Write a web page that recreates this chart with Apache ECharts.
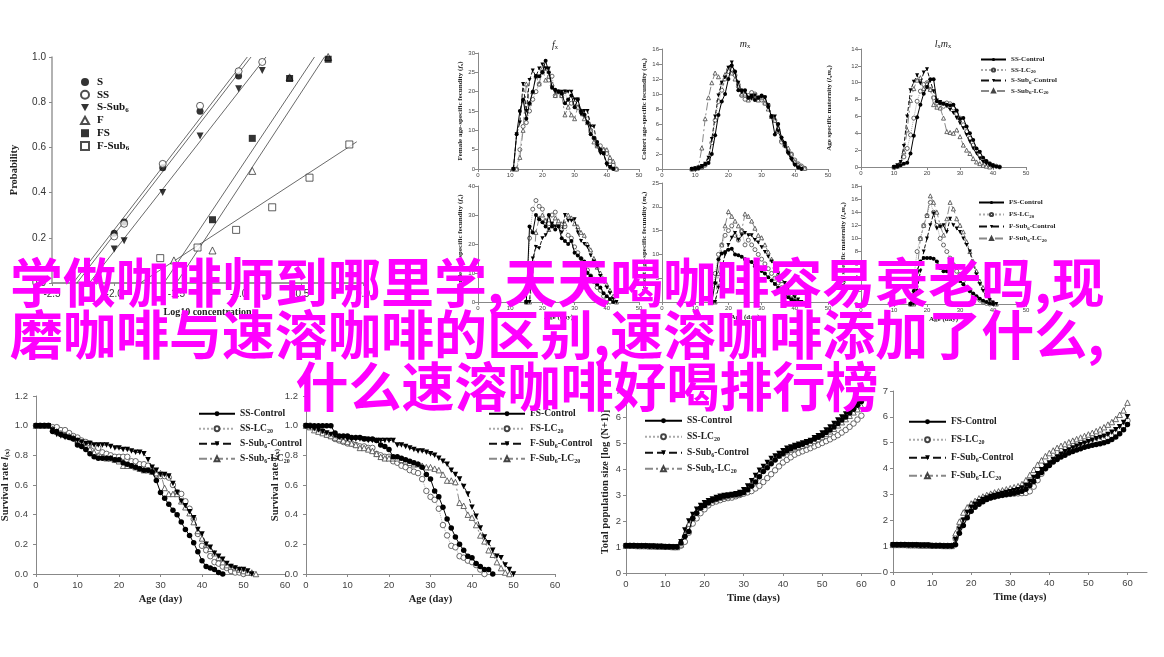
<!DOCTYPE html>
<html><head><meta charset="utf-8">
<script src="https://cdn.jsdelivr.net/npm/echarts@6/dist/echarts.min.js"></script>
<style>html,body{margin:0;padding:0;background:#fff}#c{width:1164px;height:657px}</style>
</head><body><div id="c"></div>
<script>
// ---------- Probability plot (Log10 concentration vs probability) ----------
const probNames = ['S','SS','S-Sub6','F','FS','F-Sub6'];
const probX_S    = [-2.0,-1.92,-1.61,-1.31,-1.0];
const probY_S    = [0.22,0.27,0.51,0.76,0.916];
const probX_SS   = [-2.0,-1.92,-1.61,-1.31,-1.0,-0.81];
const probY_SS   = [0.206,0.262,0.527,0.784,0.937,0.978];
const probX_SSub = [-2.0,-1.92,-1.61,-1.31,-1.0,-0.81];
const probY_SSub = [0.15,0.187,0.40,0.65,0.86,0.94];
const probX_F    = [-1.52,-1.21,-0.89,-0.59,-0.28];
const probY_F    = [0.10,0.144,0.496,0.91,1.0];
const probX_FS   = [-1.21,-0.89,-0.59,-0.28];
const probY_FS   = [0.28,0.64,0.905,0.99];
const probX_FSub = [-1.63,-1.33,-1.02,-0.73,-0.43,-0.11];
const probY_FSub = [0.11,0.157,0.235,0.335,0.466,0.613];
// regression lines: [x0,x1] with [y0,y1]
const fitX_S = [-2.33,-0.93],  fitY_S = [0,1];
const fitX_SS = [-2.30,-0.90], fitY_SS = [0,1];
const fitX_SSub = [-2.20,-0.78], fitY_SSub = [0,1];
const fitX_F = [-1.60,-0.39], fitY_F = [0,1];
const fitX_FS = [-1.50,-0.31], fitY_FS = [0,1];
const fitX_FSub = [-1.79,-0.05], fitY_FSub = [0,0.625];

// ---------- series names ----------
const ssNames = ['SS-Control','SS-LC20','S-Sub6-Control','S-Sub6-LC20'];
const fsNames = ['FS-Control','FS-LC20','F-Sub6-Control','F-Sub6-LC20'];

// ---------- Female age-specific fecundity fx (SS group), first day 11 ----------
const fxSS_start = 11;
const fxSS_ctrl  = [0,9,15,18,13,17,20,24,24,25,28,25,21,20.5,20,19.5,17,18,19,16,18,15,14,12,9,8,7,5,4,1.5,0.5,0];
const fxSS_lc    = [0,0,5,11,12,15,18,20,22,25,26,23,24,19,20,19,20,17,17,17,16,15,14,13,10,8,6,6,5,4,2,1,0];
const fxSS_sctrl = [0,9,12,22,15,23,25.5,24,26,27,26,26,21,20,20,20,20,20,20,18,18,14,15,15,11,11,6,4,4,1,0.5,0];
const fxSS_slc   = [0,0,3,10,22,17,20,24,22,26,23,24,22,19,20,19,14,16,14,13,16,15,13,12,10,7,6,5,5,5,3,2,0];
// ---------- Cohort fecundity mx (SS group), first day 9 ----------
const mxSS_start = 9;
const mxSS_ctrl  = [0,0.05,0.1,0.3,0.6,0.8,2,4.5,7.2,9,10,12,13.8,13,10.5,10.5,10.5,9.5,9.8,9.2,9.5,9.8,9.6,8.3,7,4.6,6,4.2,3.5,2.2,1.4,0.6,0.2,0];
const mxSS_lc    = [0,0,0.1,0.2,0.5,1.2,3.5,6.5,9,10.5,12,13,13.3,12.5,11,9.8,9.3,9.8,10.2,10,9.5,9.2,8.8,8.5,7,6.5,5,3.6,3.2,2.4,2,1.2,0.7,0.4,0.1];
const mxSS_sctrl = [0,0.1,0.2,0.4,0.7,1.5,4,7,9.8,11.5,12.2,13.5,14.2,12.8,11.5,10.2,10.3,9.5,9.4,9.8,9.5,9.6,9.5,8.5,7,7,5,4,3,2,1.2,0.5,0.2,0];
const mxSS_slc   = [0,0.1,0.3,2.8,6.7,9.5,11.5,12.8,12.3,11.5,12.6,13.5,12.8,12,11.5,10,10,9.2,9.5,9.8,9.2,9.5,8.8,8,7,6.5,5.5,4,3.2,2.8,2,1,0.6,0.3,0.1];
// ---------- Age specific maternity lxmx (SS group), first day 10 ----------
const lxSS_start = 10;
const lxSS_ctrl  = [0,0.05,0.2,0.4,0.5,1.6,3.7,5.9,7.4,8.7,9.5,10.4,10.4,7.8,7.6,7.5,7.4,7.3,7.4,6.7,5.7,5.8,4.8,4.0,3.2,2.2,1.8,1.1,0.7,0.4,0.2,0.05,0];
const lxSS_lc    = [0,0.1,0.4,1.2,2.2,3.8,5.8,7.8,9.0,9.8,10.0,9.2,8.2,7.6,7.6,7.2,7.6,7.5,7.0,6.3,5.8,5.0,4.2,3.4,2.6,2.0,1.4,0.9,0.6,0.4,0.2,0.1,0];
const lxSS_sctrl = [0,0.2,0.6,2.5,6.0,9.1,10.1,10.9,9.9,11.2,11.6,10.2,9.0,7.9,7.7,7.5,7.2,6.8,6.4,5.8,5.2,4.6,3.8,3.0,2.2,1.6,1.0,0.6,0.4,0.2,0];
const lxSS_slc   = [0,0.1,0.5,1.8,4.4,7.9,9.3,10.3,10.6,9.3,9.9,9.2,7.4,7.1,7.0,5.8,4.2,4.1,4.0,4.4,3.6,2.6,2.0,1.6,1.0,0.6,0.4,0.2,0.1,0];

// ---------- FS group, first day 15 ----------
const fsTop_start = 15;
const fxFS_ctrl  = [0,26,24,30,28.5,27.5,26,30,26,25,26,22,21,20,21,17,16,15,14,10,9,8,6,5,3,2,1,0];
const fxFS_lc    = [0,22,32,35,33,32,28,27,30,31,27,25,26,23,22,19,17,15,13,11,9,7,5,4,2,1,0];
const fxFS_sctrl = [0,0,15,19,18.5,22,23,25,27,26,26,24,30,28,28,28.5,24,21,20,19,16,14,12,9,7,5,3,1,0];
const fxFS_slc   = [0,0,8,24,29,30,28,25,27,29,28,27,27,30,29,27,26,24,23,20,18,15,12,10,8,6,4,2,0];
const mxFS_ctrl  = [0,4,9,10.2,10.5,11,11.2,10,9.8,9.5,9,8.5,8.4,7.5,7,6.5,6,5.2,4.5,3.8,3,2.2,1.5,1,0.5,0.2,0];
const mxFS_lc    = [0,6,10,12,14,15,16,14,13,15,12,13,12,11,10,9,8,7,6,5,4,3,2,1.2,0.6,0.2,0];
const mxFS_sctrl = [0,0,3,7,10,12,13.5,14.5,13,14,14.5,14,14,13,12.5,11.5,10.5,9.5,8.5,7.5,6,5,4,3,2,1,0.5,0];
const mxFS_slc   = [0,0,6,12,16,19,18,17,16,15,18.5,18,17,15.5,14,13.5,12,10.5,9,7.5,6,4.5,3.5,2.5,1.5,0.8,0.3,0];
const lxFS_ctrl  = [0,2,5,6.5,7,7,7,6.9,6.5,5.5,5,5,4.5,4,3.8,3.5,3,2.5,2,1.6,1.2,0.8,0.5,0.3,0.1,0];
const lxFS_lc    = [0,4,8,10,12,13.5,15.5,14,12,10,9,8,7,6,5,4.5,3.5,2.5,2,1.4,1,0.6,0.3,0.1,0];
const lxFS_sctrl = [0,0,2,5,8,10,12,13.8,11.5,11.8,12,11,13,12,11.5,11,10,9,8,6,4.5,3,2,1.2,0.6,0.2,0];
const lxFS_slc   = [0,0,5,10,12,13.5,16.5,15.5,14,12,10.5,13,15.5,14.5,13,12,11,9.5,8,6.5,5,3.5,2.5,1.5,0.8,0.3,0];

// ---------- Survival rate lx (first day 0) ----------
const survSS_ctrl  = [1,1,1,1,0.96,0.96,0.94,0.93,0.92,0.91,0.87,0.86,0.84,0.81,0.79,0.78,0.78,0.78,0.78,0.77,0.77,0.75,0.74,0.73,0.72,0.71,0.70,0.70,0.69,0.63,0.55,0.51,0.47,0.43,0.40,0.35,0.30,0.26,0.21,0.15,0.09,0.05,0.04,0.03,0.01,0.0];
const survSS_lc    = [1,1,1,1,0.99,0.99,0.97,0.97,0.95,0.93,0.92,0.90,0.89,0.88,0.86,0.85,0.82,0.81,0.80,0.79,0.79,0.79,0.79,0.76,0.76,0.74,0.74,0.73,0.70,0.67,0.66,0.66,0.65,0.60,0.55,0.54,0.49,0.44,0.37,0.27,0.19,0.16,0.12,0.08,0.07,0.05,0.04,0.02,0.01,0.01,0.0];
const survSS_sctrl = [1,1,1,1,0.97,0.94,0.93,0.92,0.92,0.91,0.90,0.89,0.88,0.88,0.87,0.87,0.87,0.87,0.86,0.85,0.85,0.84,0.84,0.83,0.82,0.82,0.81,0.77,0.72,0.70,0.67,0.67,0.66,0.61,0.55,0.49,0.46,0.42,0.38,0.30,0.27,0.20,0.18,0.14,0.12,0.10,0.07,0.05,0.04,0.03,0.03,0.02,0.0];
const survSS_slc   = [1,1,1,1,0.98,0.96,0.95,0.94,0.93,0.92,0.90,0.88,0.86,0.84,0.82,0.80,0.79,0.78,0.78,0.77,0.76,0.73,0.73,0.73,0.72,0.71,0.70,0.70,0.69,0.68,0.68,0.58,0.54,0.54,0.54,0.49,0.45,0.41,0.35,0.29,0.24,0.20,0.17,0.14,0.11,0.08,0.06,0.05,0.04,0.03,0.02,0.01,0.01,0.0];
const survFS_ctrl  = [1,1,1,1,1,1,1,0.95,0.93,0.93,0.93,0.92,0.92,0.92,0.91,0.91,0.91,0.90,0.87,0.86,0.84,0.79,0.79,0.78,0.77,0.76,0.75,0.74,0.72,0.67,0.64,0.56,0.52,0.45,0.37,0.31,0.25,0.20,0.16,0.12,0.11,0.07,0.05,0.03,0.03,0.0];
const survFS_lc    = [1,1,0.99,0.98,0.96,0.94,0.93,0.91,0.90,0.89,0.88,0.88,0.87,0.86,0.86,0.85,0.85,0.81,0.80,0.79,0.79,0.76,0.75,0.73,0.72,0.70,0.69,0.68,0.64,0.56,0.52,0.50,0.44,0.33,0.26,0.19,0.18,0.12,0.11,0.09,0.08,0.06,0.03,0.0];
const survFS_sctrl = [1,0.99,0.98,0.97,0.96,0.95,0.94,0.93,0.92,0.92,0.91,0.91,0.91,0.91,0.91,0.90,0.90,0.90,0.90,0.90,0.90,0.90,0.87,0.87,0.86,0.85,0.84,0.83,0.83,0.82,0.81,0.80,0.78,0.76,0.74,0.70,0.67,0.64,0.59,0.54,0.45,0.39,0.31,0.25,0.21,0.16,0.12,0.11,0.06,0.03,0.0];
const survFS_slc   = [1,0.99,0.97,0.96,0.95,0.94,0.93,0.92,0.91,0.90,0.89,0.88,0.87,0.85,0.85,0.84,0.83,0.81,0.79,0.78,0.78,0.78,0.78,0.77,0.76,0.75,0.74,0.74,0.73,0.72,0.72,0.71,0.70,0.67,0.63,0.63,0.62,0.48,0.46,0.40,0.38,0.33,0.26,0.22,0.16,0.13,0.08,0.04,0.01,0.0];

// ---------- Total population size log(N+1) (first day 0) ----------
const popSS_ctrl  = [1.05,1.05,1.05,1.04,1.04,1.04,1.03,1.03,1.02,1.02,1.01,1.01,1.0,1.0,1.15,1.4,1.6,2.1,2.3,2.5,2.6,2.7,2.8,2.85,2.9,2.95,2.97,3.0,3.02,3.05,3.1,3.2,3.35,3.5,3.7,3.9,4.05,4.2,4.35,4.5,4.6,4.7,4.78,4.85,4.9,4.95,5.02,5.08,5.15,5.22,5.3,5.4,5.5,5.62,5.75,5.88,6.0,6.15,6.3,6.45,6.6];
const popSS_lc    = [1.05,1.05,1.05,1.04,1.04,1.04,1.03,1.03,1.02,1.02,1.01,1.01,1.0,1.0,1.05,1.2,1.55,1.9,2.1,2.3,2.45,2.6,2.7,2.75,2.8,2.85,2.88,2.9,2.95,3.0,3.05,3.1,3.15,3.25,3.35,3.5,3.65,3.8,3.95,4.1,4.25,4.35,4.45,4.55,4.62,4.68,4.74,4.8,4.87,4.93,5.0,5.07,5.14,5.22,5.3,5.4,5.5,5.62,5.75,5.9,6.05];
const popSS_sctrl = [1.05,1.05,1.05,1.04,1.04,1.04,1.03,1.03,1.02,1.02,1.01,1.01,1.0,1.0,1.2,1.65,2.0,2.25,2.45,2.6,2.7,2.78,2.85,2.9,2.95,2.98,3.0,3.02,3.05,3.1,3.2,3.35,3.55,3.75,3.95,4.1,4.25,4.4,4.5,4.6,4.7,4.8,4.85,4.9,4.95,5.0,5.05,5.1,5.2,5.28,5.38,5.5,5.62,5.75,5.88,6.0,6.12,6.25,6.38,6.5,6.62];
const popSS_slc   = [1.05,1.05,1.05,1.04,1.04,1.04,1.03,1.03,1.02,1.02,1.01,1.01,1.0,1.0,1.1,1.5,1.9,2.2,2.4,2.55,2.65,2.72,2.8,2.85,2.9,2.93,2.96,3.0,3.02,3.05,3.12,3.25,3.45,3.65,3.85,4.0,4.15,4.3,4.42,4.52,4.6,4.68,4.75,4.8,4.85,4.9,4.95,5.0,5.08,5.15,5.25,5.35,5.45,5.55,5.68,5.8,5.92,6.05,6.18,6.3,6.42];
const popFS_ctrl  = [1.05,1.05,1.05,1.05,1.04,1.04,1.04,1.03,1.03,1.03,1.02,1.02,1.02,1.01,1.01,1.01,1.05,1.5,1.8,2.1,2.35,2.5,2.62,2.72,2.8,2.86,2.9,2.94,2.97,3.0,3.02,3.05,3.08,3.12,3.2,3.35,3.5,3.7,3.85,4.0,4.12,4.25,4.35,4.45,4.52,4.6,4.66,4.72,4.77,4.82,4.86,4.9,4.93,4.96,5.0,5.05,5.12,5.22,5.35,5.5,5.7];
const popFS_lc    = [1.05,1.05,1.05,1.05,1.04,1.04,1.04,1.03,1.03,1.03,1.02,1.02,1.02,1.01,1.01,1.01,1.3,1.7,2.0,2.25,2.45,2.6,2.7,2.78,2.84,2.89,2.93,2.96,2.98,3.0,3.02,3.03,3.04,3.05,3.06,3.12,3.3,3.55,3.8,4.0,4.15,4.3,4.42,4.52,4.6,4.68,4.74,4.8,4.85,4.9,4.95,5.0,5.05,5.1,5.15,5.2,5.28,5.38,5.5,5.65,5.85];
const popFS_sctrl = [1.05,1.05,1.05,1.05,1.04,1.04,1.04,1.03,1.03,1.03,1.02,1.02,1.02,1.01,1.01,1.01,1.25,1.65,2.0,2.3,2.5,2.62,2.72,2.8,2.86,2.92,2.96,3.0,3.04,3.07,3.1,3.14,3.18,3.25,3.35,3.5,3.65,3.8,3.95,4.1,4.22,4.35,4.45,4.55,4.65,4.72,4.8,4.86,4.92,4.98,5.04,5.1,5.15,5.2,5.25,5.32,5.4,5.5,5.62,5.78,6.0];
const popFS_slc   = [1.05,1.05,1.05,1.05,1.04,1.04,1.04,1.03,1.03,1.03,1.02,1.02,1.02,1.01,1.01,1.01,1.5,1.95,2.3,2.5,2.65,2.75,2.85,2.92,2.98,3.03,3.08,3.12,3.16,3.2,3.24,3.28,3.32,3.4,3.55,3.75,3.95,4.15,4.32,4.48,4.6,4.7,4.8,4.88,4.95,5.02,5.08,5.14,5.2,5.26,5.32,5.38,5.45,5.52,5.6,5.7,5.8,5.92,6.08,6.25,6.55];

// ---------- overlay text ----------
const overlayLines = ['学做咖啡师到哪里学,天天喝咖啡容易衰老吗,现', '磨咖啡与速溶咖啡的区别,速溶咖啡添加了什么,', '什么速溶咖啡好喝排行榜'];

// ================= build =================
const SANS = "'Liberation Sans', Arial, sans-serif";
const SERIF = "'Liberation Serif', 'Times New Roman', serif";
const DOWN = 'path://M0,0L10,0L5,9Z';
const UP = 'path://M5,0L10,9L0,9Z';
const SQUARE = 'path://M0,0L10,0L10,10L0,10Z';
function seq(start, vals){ return vals.map((v,i)=>[start+i, v]); }
function zip(xs, ys){ return xs.map((x,i)=>[x, ys[i]]); }

const grids = [
  {left:52, top:57, width:311, height:226},
  {left:478, top:53, width:161, height:116},
  {left:662, top:49, width:166, height:120},
  {left:861, top:49, width:165, height:118},
  {left:478, top:186, width:161, height:116},
  {left:662, top:183, width:166, height:119},
  {left:861, top:186, width:165, height:118},
  {left:36, top:396, width:249, height:178},
  {left:306, top:396, width:249, height:178},
  {left:626, top:391, width:255, height:182},
  {left:893, top:391, width:254, height:181}
].map(g => Object.assign({containLabel:false, outerBoundsMode:'none'}, g));

function axis(gi, min, max, interval, fs, extra){
  const a = {type:'value', gridIndex:gi, min, max, interval,
    splitLine:{show:false},
    axisLine:{show:true, onZero:false, lineStyle:{color:'#888', width:1}},
    axisTick:{show:true, length:3, lineStyle:{color:'#888'}},
    axisLabel:{fontSize:fs, color:'#444', fontFamily:SANS, margin: fs>8?6:3}};
  if (extra) {
    for (const k in extra) {
      if (typeof extra[k]==='object' && !Array.isArray(extra[k]) && a[k]) a[k] = Object.assign({}, a[k], extra[k]);
      else a[k] = extra[k];
    }
  }
  return a;
}
const nameStyleSmall = {fontFamily:SERIF, fontWeight:'bold', fontSize:7, color:'#222',
  rich:{i:{fontStyle:'italic', fontFamily:SERIF, fontWeight:'bold', fontSize:7, color:'#222'}, s:{fontFamily:SERIF, fontWeight:'bold', fontSize:5, color:'#222', padding:[3,0,0,0]}}};
const nameStyle = {fontFamily:SERIF, fontWeight:'bold', fontSize:10.5, color:'#222',
  rich:{i:{fontStyle:'italic', fontFamily:SERIF, fontWeight:'bold', fontSize:10.5, color:'#222'}, s:{fontFamily:SERIF, fontWeight:'bold', fontSize:7, color:'#222', padding:[4,0,0,0]}}};

const fmt1 = v => v.toFixed(1);
const xAxes = [
  axis(0, -2.5, 0, 0.5, 10, {axisLabel:{formatter:fmt1, color:'#333'}, axisLine:{lineStyle:{color:'#999', width:2}}, name:'Log10 concentration', nameLocation:'middle', nameGap:24, nameTextStyle:{fontFamily:SERIF, fontWeight:'bold', fontSize:10, color:'#222'}}),
  axis(1, 0, 50, 10, 6),
  axis(2, 0, 50, 10, 6),
  axis(3, 0, 50, 10, 6),
  axis(4, 0, 50, 10, 6, {name:'Age (day)', nameLocation:'middle', nameGap:12, nameTextStyle:nameStyleSmall}),
  axis(5, 0, 50, 10, 6, {name:'Age (day)', nameLocation:'middle', nameGap:12, nameTextStyle:nameStyleSmall}),
  axis(6, 0, 50, 10, 6, {name:'Age (day)', nameLocation:'middle', nameGap:12, nameTextStyle:nameStyleSmall}),
  axis(7, 0, 60, 10, 9.5, {name:'Age (day)', nameLocation:'middle', nameGap:20, nameTextStyle:nameStyle}),
  axis(8, 0, 60, 10, 9.5, {name:'Age (day)', nameLocation:'middle', nameGap:20, nameTextStyle:nameStyle}),
  axis(9, 0, 65, 10, 9.5, {axisLabel:{customValues:[0,10,20,30,40,50,60]}, axisTick:{customValues:[0,10,20,30,40,50,60]}, name:'Time (days)', nameLocation:'middle', nameGap:20, nameTextStyle:nameStyle}),
  axis(10, 0, 65, 10, 9.5, {axisLabel:{customValues:[0,10,20,30,40,50,60]}, axisTick:{customValues:[0,10,20,30,40,50,60]}, name:'Time (days)', nameLocation:'middle', nameGap:20, nameTextStyle:nameStyle})
];
const yAxes = [
  axis(0, 0, 1, 0.2, 10, {axisLabel:{formatter:fmt1, color:'#333'}, axisLine:{lineStyle:{color:'#999', width:1.5}}, name:'Probability', nameLocation:'middle', nameGap:32, nameTextStyle:{fontFamily:SERIF, fontWeight:'bold', fontSize:10.5, color:'#222'}}),
  axis(1, 0, 30, 5, 6, {name:'Female age-specific fecundity ({i|f}{s|x})', nameLocation:'middle', nameGap:13, nameTextStyle:nameStyleSmall}),
  axis(2, 0, 16, 2, 6, {name:'Cohort age-specific fecundity ({i|m}{s|x})', nameLocation:'middle', nameGap:11, nameTextStyle:nameStyleSmall}),
  axis(3, 0, 14, 2, 6, {name:'Age specific maternity ({i|l}{s|x}{i|m}{s|x})', nameLocation:'middle', nameGap:28, nameTextStyle:nameStyleSmall}),
  axis(4, 0, 40, 10, 6, {name:'Female age-specific fecundity ({i|f}{s|x})', nameLocation:'middle', nameGap:13, nameTextStyle:nameStyleSmall}),
  axis(5, 0, 25, 5, 6, {name:'Cohort age-specific fecundity ({i|m}{s|x})', nameLocation:'middle', nameGap:8, nameTextStyle:nameStyleSmall}),
  axis(6, 0, 18, 2, 6, {name:'Age specific maternity ({i|l}{s|x}{i|m}{s|x})', nameLocation:'middle', nameGap:13, nameTextStyle:nameStyleSmall}),
  axis(7, 0, 1.2, 0.2, 9.5, {axisLabel:{formatter:fmt1, margin:8}, name:'Survival rate {i|l}{s|(x)}', nameLocation:'middle', nameGap:19, nameTextStyle:nameStyle}),
  axis(8, 0, 1.2, 0.2, 9.5, {axisLabel:{formatter:fmt1, margin:8}, name:'Survival rate {i|l}{s|(x)}', nameLocation:'middle', nameGap:19, nameTextStyle:nameStyle}),
  axis(9, 0, 7, 1, 9.5, {axisLabel:{margin:5}, name:'Total population size [log (N+1)]', nameLocation:'middle', nameGap:15, nameTextStyle:nameStyle}),
  axis(10, 0, 7, 1, 9.5, {axisLabel:{margin:5}})
];

function lineStyleFor(kind, size){
  switch(kind){
    case 0: return {symbol:'circle', symbolSize:size, itemStyle:{color:'#000'}, lineStyle:{color:'#000', width:1, type:'solid'}, z:6};
    case 1: return {symbol:'circle', symbolSize:size, itemStyle:{color:'#fff', borderColor:'#444', borderWidth:0.8}, lineStyle:{color:'#aaa', width:1, type:'dotted'}, z:3};
    case 2: return {symbol:DOWN, symbolSize:size, itemStyle:{color:'#000'}, lineStyle:{color:'#111', width:1, type:'dashed'}, z:5};
    default: return {symbol:UP, symbolSize:size, itemStyle:{color:'#fff', borderColor:'#444', borderWidth:0.8}, lineStyle:{color:'#888', width:1, type:[8,3,2,3]}, z:4};
  }
}
function ls(name, data, gi, kind, size){
  return Object.assign({type:'line', name, data, xAxisIndex:gi, yAxisIndex:gi, showSymbol:true, silent:true, animation:false}, lineStyleFor(kind, size));
}
const series = [];
[[fitX_S,fitY_S],[fitX_SS,fitY_SS],[fitX_SSub,fitY_SSub],[fitX_F,fitY_F],[fitX_FS,fitY_FS],[fitX_FSub,fitY_FSub]].forEach((f,i)=>{
  series.push({type:'line', name:'fit'+i, data:zip(f[0],f[1]), xAxisIndex:0, yAxisIndex:0, showSymbol:false, silent:true, lineStyle:{color:'#444', width:0.8}, z:2});
});
const probData = [[probX_S,probY_S],[probX_SS,probY_SS],[probX_SSub,probY_SSub],[probX_F,probY_F],[probX_FS,probY_FS],[probX_FSub,probY_FSub]];
const probSym = [
  {symbol:'circle', itemStyle:{color:'#000'}},
  {symbol:'circle', itemStyle:{color:'#fff', borderColor:'#222', borderWidth:0.9}},
  {symbol:DOWN, itemStyle:{color:'#000'}},
  {symbol:UP, itemStyle:{color:'#fff', borderColor:'#222', borderWidth:0.9}},
  {symbol:SQUARE, itemStyle:{color:'#000'}},
  {symbol:SQUARE, itemStyle:{color:'#fff', borderColor:'#222', borderWidth:0.9}}
];
probData.forEach((d,i)=>{
  series.push(Object.assign({type:'scatter', name:probNames[i], data:zip(d[0],d[1]), xAxisIndex:0, yAxisIndex:0, symbolSize:7, silent:true, z:5}, probSym[i]));
});
const topSS = [[fxSS_start,[fxSS_ctrl,fxSS_lc,fxSS_sctrl,fxSS_slc],1],[mxSS_start,[mxSS_ctrl,mxSS_lc,mxSS_sctrl,mxSS_slc],2],[lxSS_start,[lxSS_ctrl,lxSS_lc,lxSS_sctrl,lxSS_slc],3]];
topSS.forEach(p=>p[1].forEach((vals,k)=>series.push(ls(ssNames[k], seq(p[0],vals), p[2], k, 4))));
const topFS = [[[fxFS_ctrl,fxFS_lc,fxFS_sctrl,fxFS_slc],4],[[mxFS_ctrl,mxFS_lc,mxFS_sctrl,mxFS_slc],5],[[lxFS_ctrl,lxFS_lc,lxFS_sctrl,lxFS_slc],6]];
topFS.forEach(p=>p[0].forEach((vals,k)=>series.push(ls(fsNames[k], seq(fsTop_start,vals), p[1], k, 4))));
[survSS_ctrl,survSS_lc,survSS_sctrl,survSS_slc].forEach((v,k)=>series.push(ls(ssNames[k], seq(0,v), 7, k, 5.5)));
[survFS_ctrl,survFS_lc,survFS_sctrl,survFS_slc].forEach((v,k)=>series.push(ls(fsNames[k], seq(0,v), 8, k, 5.5)));
[popSS_ctrl,popSS_lc,popSS_sctrl,popSS_slc].forEach((v,k)=>series.push(ls(ssNames[k], seq(0,v), 9, k, 5.5)));
[popFS_ctrl,popFS_lc,popFS_sctrl,popFS_slc].forEach((v,k)=>series.push(ls(fsNames[k], seq(0,v), 10, k, 5.5)));

function legFmt(n){ return n.replace('Sub6','Sub{s|6}').replace('LC20','LC{s|20}'); }
function legend(names, left, top, iw, gap, fs){
  return {show:true, data:names, left, top, orient:'vertical', itemWidth:iw, itemHeight: fs>8?6:4, itemGap:gap, selectedMode:false,
    formatter:legFmt,
    textStyle:{fontFamily:SERIF, fontWeight:'bold', fontSize:fs, color:'#222', lineHeight:fs+2,
      rich:{s:{fontFamily:SERIF, fontWeight:'bold', fontSize:Math.round(fs*0.65), color:'#222', verticalAlign:'bottom', lineHeight:fs+2}}}};
}
const legends = [
  {show:true, data:probNames, left:75, top:71, orient:'vertical', itemWidth:8, itemHeight:8, itemGap:0.8, selectedMode:false,
   formatter:legFmt, textStyle:{fontFamily:SERIF, fontWeight:'bold', fontSize:11, color:'#111', lineHeight:12, padding:[0,0,0,3],
   rich:{s:{fontFamily:SERIF, fontWeight:'bold', fontSize:7, color:'#111', verticalAlign:'bottom', lineHeight:12}}}},
  legend(ssNames, 975, 50, 25, 1.5, 7),
  legend(fsNames, 973, 193, 25, 3, 7),
  legend(ssNames, 193, 403, 36, 3.5, 9.5),
  legend(fsNames, 483, 403, 36, 3.5, 9.5),
  legend(ssNames, 639, 410, 37, 4.5, 9.5),
  legend(fsNames, 903, 411, 37, 6.5, 9.5)
];

const titleRich = {i:{fontStyle:'italic', fontFamily:SERIF, fontSize:10, fill:'#222'}, s:{fontFamily:SERIF, fontSize:6.5, fill:'#222', padding:[4,0,0,0]}};
const OFONT = 'bold 53px "Noto Sans CJK SC"';
const graphics = [
  {type:'text', x:555, y:45, style:{text:'{i|f}{s|x}', rich:titleRich, align:'center', verticalAlign:'middle'}},
  {type:'text', x:745, y:44, style:{text:'{i|m}{s|x}', rich:titleRich, align:'center', verticalAlign:'middle'}},
  {type:'text', x:943, y:44, style:{text:'{i|l}{s|x}{i|m}{s|x}', rich:titleRich, align:'center', verticalAlign:'middle'}},
  {type:'text', x:10, y:283, z:100, style:{text:overlayLines[0], fill:'#ff00ff', font:OFONT, align:'left', verticalAlign:'middle'}},
  {type:'text', x:10, y:335, z:100, style:{text:overlayLines[1], fill:'#ff00ff', font:OFONT, align:'left', verticalAlign:'middle'}},
  {type:'text', x:587, y:387, z:100, style:{text:overlayLines[2], fill:'#ff00ff', font:OFONT, align:'center', verticalAlign:'middle'}}
];

const chart = echarts.init(document.getElementById('c'), null, {renderer:'canvas'});
chart.setOption({
  animation:false, backgroundColor:'#fff',
  grid:grids, xAxis:xAxes, yAxis:yAxes, series, legend:legends,
  graphic:{elements:graphics}
});
</script></body></html>
